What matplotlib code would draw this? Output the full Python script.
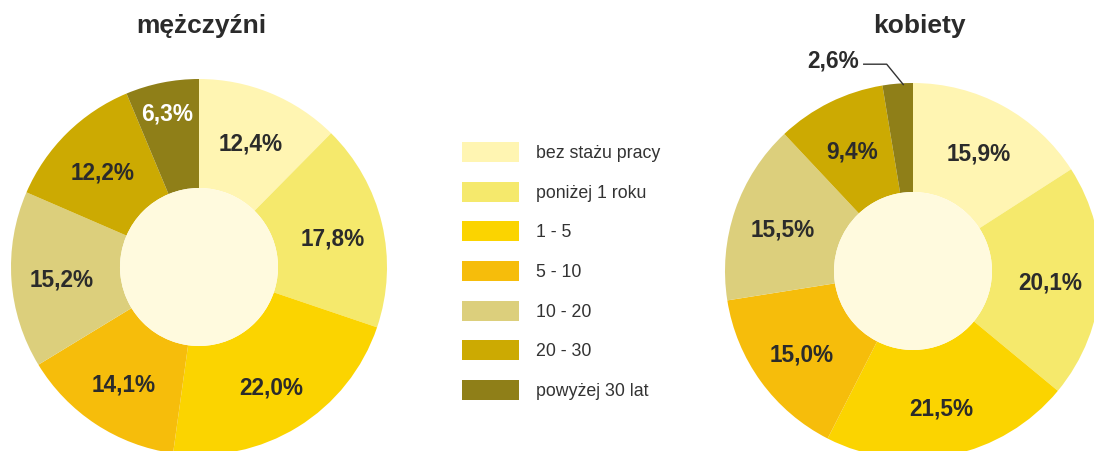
import matplotlib
matplotlib.use("Agg")
import matplotlib.pyplot as plt
import numpy as np
from matplotlib.patches import Circle, Patch

categories = ["bez stażu pracy", "poniżej 1 roku", "1 - 5", "5 - 10", "10 - 20", "20 - 30", "powyżej 30 lat"]
men = [12.4, 17.8, 22.0, 14.1, 15.2, 12.2, 6.3]
women = [15.9, 20.1, 21.5, 15.0, 15.5, 9.4, 2.6]
colors = ["#FFF5B2", "#F5E96C", "#FBD400", "#F6BD0B", "#DCCF7C", "#CCAA02", "#8F7F18"]
titles = ["mężczyźni", "kobiety"]

plt.rcParams['font.family'] = ['Liberation Sans', 'DejaVu Sans']

W, H = 1094, 451
fig = plt.figure(figsize=(W / 100, H / 100), dpi=100)
fig.patch.set_facecolor("white")

R = 188
inner = 79 / R
txt = "#2B2B2B"
LFS = 16.3


def donut(cx, cy, values, title, title_x):
    ax = fig.add_axes([(cx - R) / W, (H - cy - R) / H, 2 * R / W, 2 * R / H])
    ax.pie(values, colors=colors, startangle=90, counterclock=False,
           radius=1, wedgeprops=dict(linewidth=0, width=1 - inner))
    ax.set_xlim(-1, 1)
    ax.set_ylim(-1, 1)
    ax.set_aspect("equal")
    ax.axis("off")
    ax.add_patch(Circle((0, 0), inner, facecolor="#FFFADE", edgecolor="none", zorder=3))
    cum = 0
    for v in values:
        mid = (cum + v / 2) / 100 * 2 * np.pi
        cum += v
        lab = f"{v:.1f}".replace(".", ",") + "%"
        if v < 5:
            # small slice: label outside with leader line
            x0, y0 = np.sin(mid) * 1.0, np.cos(mid) * 1.0
            ly = 1.10
            ax.plot([-0.262, -0.14, x0 + 0.03], [ly, ly, y0 - 0.005], color="#333333",
                    lw=1.0, clip_on=False, zorder=5)
            ax.text(-0.425, 1.115, lab, ha="center", va="center", fontsize=LFS,
                    fontweight="bold", color=txt, clip_on=False)
            continue
        r = 0.85 if v < 8 else 0.73
        color = "white" if v < 8 else txt
        ax.text(np.sin(mid) * r, np.cos(mid) * r - 0.02, lab, ha="center", va="center",
                fontsize=LFS, fontweight="bold", color=color, zorder=4)
    fig.text(title_x / W, 1 - 26 / H, title, ha="center", va="center",
             fontsize=19, fontweight="bold", color=txt)


donut(199, 267, men, titles[0], 201)
donut(913, 271, women, titles[1], 919)

handles = [Patch(facecolor=c, edgecolor="none") for c in colors]
fig.legend(handles, categories, loc="upper left", bbox_to_anchor=(462 / W, 1 - 142 / H),
           frameon=False, fontsize=12.8, handlelength=3.2, handleheight=1.35,
           labelspacing=1.11, handletextpad=0.95, borderpad=0, borderaxespad=0,
           labelcolor="#333333")

fig.savefig("out.png", dpi=100, facecolor="white")
